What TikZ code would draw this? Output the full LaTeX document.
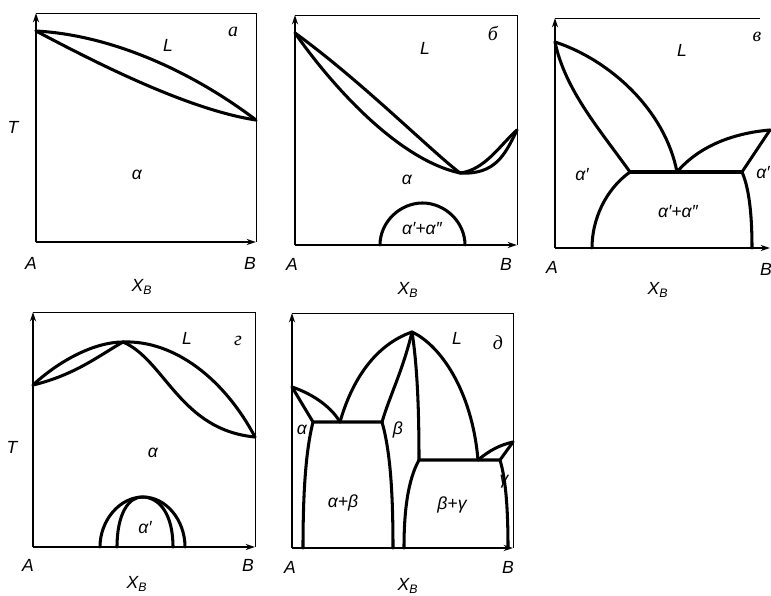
\documentclass[tikz,border=0pt]{standalone}
\usepackage{fontspec}
\setmainfont{Liberation Sans}
\newfontfamily\cyr{Liberation Serif}
\usetikzlibrary{arrows.meta}
\tikzset{
  axis/.style={line width=2pt, -{Stealth[length=2.8mm, width=1.8mm]}},
  frame/.style={line width=0.8pt},
  phase/.style={line width=2.6pt, line cap=round, line join=round},
  lbl/.style={font=\itshape\fontsize{15}{17}\selectfont, inner sep=0pt},
  tag/.style={font=\cyr\itshape\fontsize{17}{19}\selectfont, inner sep=0pt}}

\begin{document}
\begin{tikzpicture}[x=0.03cm, y=-0.03cm]
  \useasboundingbox (0,0) rectangle (771,596);
  % axes and frames
  \foreach \l/\t/\r/\b in {36/13/256/242, 295/15/517/245, 555/18/770/248, 33/312/255/547, 292/313/513/548}
    {\draw[axis] (\l,\b) -- (\l,\t); \draw[axis] (\l,\b) -- (\r,\b);}
  \foreach \l/\t/\r/\b in {36/13/256/242, 295/15/517/245, 33/312/255/547, 292/313/513/548}
    {\draw[frame] (\l,\t) -- (\r,\t) -- (\r,\b);}
  \draw[frame] (555,18) -- (760,18);

  % a: complete solubility
  \coordinate (a-mA) at (36,31);
  \coordinate (a-mB) at (256,120);
  \draw[phase] (a-mA) .. controls (110,35) and (190,70) .. (a-mB);
  \draw[phase] (a-mA) .. controls (100,65) and (190,110) .. (a-mB);
  \node[lbl] (a-L) at (168,45) {L};
  \node[tag] (a-tag) at (233,32) {а};
  \node[lbl] (a-al) at (137,175) {α};
  \node[lbl] (a-T) at (13,127) {T};
  \node[lbl] (a-A) at (31,263) {A};
  \node[lbl] (a-B) at (250,263) {B};
  \node[lbl] (a-X) at (142,287) {X\textsubscript{B}};

  % b: minimum with miscibility gap
  \coordinate (b-mA) at (295,33);
  \coordinate (b-min) at (460,173);
  \coordinate (b-mB) at (517,130);
  \draw[phase] (b-mA) .. controls (360,80) and (430,150) .. (b-min);
  \draw[phase] (b-mA) .. controls (335,90) and (400,160) .. (b-min);
  \draw[phase] (b-min) .. controls (485,170) and (500,145) .. (b-mB);
  \draw[phase] (b-min) .. controls (495,175) and (505,155) .. (b-mB);
  \draw[phase] (380,245) .. controls (380,222) and (400,203) .. (422.5,203)
    .. controls (445,203) and (465,222) .. (465,245);
  \node[lbl] (b-L) at (425,48) {L};
  \node[tag] (b-tag) at (493,33) {б};
  \node[lbl] (b-al) at (407,180) {α};
  \node[lbl] (b-gap) at (422,229) {α′+α″};
  \node[lbl] (b-A) at (292,264) {A};
  \node[lbl] (b-B) at (506,264) {B};
  \node[lbl] (b-X) at (408,290) {X\textsubscript{B}};

  % c: eutectic with gap
  \coordinate (c-mA) at (555,42);
  \coordinate (c-s1) at (630,172);
  \coordinate (c-e) at (677,172);
  \coordinate (c-s2) at (742,172);
  \coordinate (c-mB) at (770,130);
  \draw[phase] (c-mA) .. controls (610,60) and (665,110) .. (c-e);
  \draw[phase] (c-mA) .. controls (565,90) and (600,130) .. (c-s1);
  \draw[phase] (c-s1) -- (c-s2);
  \draw[phase] (c-e) .. controls (700,145) and (735,133) .. (c-mB);
  \draw[phase] (c-s2) -- (c-mB);
  \draw[phase] (c-s1) .. controls (605,190) and (592,220) .. (592,248);
  \draw[phase] (c-s2) .. controls (750,190) and (752,220) .. (752,248);
  \node[lbl] (c-L) at (682,50) {L};
  \node[tag] (c-tag) at (757,37) {в};
  \node[lbl] (c-al1) at (582,175) {α′};
  \node[lbl] (c-al2) at (763,173) {α′};
  \node[lbl] (c-gap) at (678,212) {α′+α″};
  \node[lbl] (c-A) at (552,267) {A};
  \node[lbl] (c-B) at (766,269) {B};
  \node[lbl] (c-X) at (658,290) {X\textsubscript{B}};

  % d: maximum with ordering dome
  \coordinate (d-mA) at (33,385);
  \coordinate (d-max) at (123,342);
  \coordinate (d-mB) at (255,437);
  \draw[phase] (d-mA) .. controls (60,360) and (95,342) .. (d-max);
  \draw[phase] (d-mA) .. controls (75,375) and (100,355) .. (d-max);
  \draw[phase] (d-max) .. controls (175,340) and (225,380) .. (d-mB);
  \draw[phase] (d-max) .. controls (165,360) and (180,430) .. (d-mB);
  \draw[phase] (100,547) .. controls (100,520) and (120,497) .. (143,497)
    .. controls (166,497) and (185,520) .. (185,547);
  \draw[phase] (117,547) .. controls (117,515) and (128,497) .. (142,497)
    .. controls (160,497) and (173,515) .. (173,547);
  \node[lbl] (d-L) at (187,338) {L};
  \node[tag] (d-tag) at (238,341) {г};
  \node[lbl] (d-al) at (153,453) {α};
  \node[lbl] (d-al2) at (145,528) {α′};
  \node[lbl] (d-T) at (12,447) {T};
  \node[lbl] (d-A) at (28,565) {A};
  \node[lbl] (d-B) at (248,565) {B};
  \node[lbl] (d-X) at (137,584) {X\textsubscript{B}};

  % e: compound with two eutectics
  \coordinate (e-mA) at (292,387);
  \coordinate (e-sa) at (313,422);
  \coordinate (e-e1) at (340,422);
  \coordinate (e-sb) at (382,422);
  \coordinate (e-pk) at (412,332);
  \coordinate (e-r1) at (419,460);
  \coordinate (e-e2) at (478,460);
  \coordinate (e-r2) at (500,460);
  \coordinate (e-mB) at (513,442);
  \draw[phase] (e-mA) .. controls (310,393) and (330,405) .. (e-e1);
  \draw[phase] (e-mA) -- (e-sa) -- (e-sb);
  \draw[phase] (e-e1) .. controls (352,380) and (375,345) .. (e-pk);
  \draw[phase] (e-sb) .. controls (390,395) and (403,370) .. (e-pk);
  \draw[phase] (e-pk) .. controls (418,370) and (419,420) .. (e-r1) -- (e-r2) -- (e-mB);
  \draw[phase] (e-pk) .. controls (440,345) and (472,390) .. (e-e2);
  \draw[phase] (e-e2) .. controls (490,450) and (500,445) .. (e-mB);
  \draw[phase] (e-sa) .. controls (306,450) and (303,490) .. (303,548);
  \draw[phase] (e-sb) .. controls (390,450) and (393,490) .. (393,548);
  \draw[phase] (e-r1) .. controls (408,480) and (404,510) .. (404,548);
  \draw[phase] (e-r2) .. controls (506,480) and (508,510) .. (508,548);
  \node[lbl] (e-L) at (457,338) {L};
  \node[tag] (e-tag) at (498,343) {д};
  \node[lbl] (e-al) at (302,430) {α};
  \node[lbl] (e-be) at (398,430) {β};
  \node[lbl] (e-ab) at (343,503) {α+β};
  \node[lbl] (e-bg) at (452,505) {β+γ};
  \node[lbl] (e-ga) at (504,482) {γ};
  \node[lbl] (e-A) at (290,567) {A};
  \node[lbl] (e-B) at (508,567) {B};
  \node[lbl] (e-X) at (408,586) {X\textsubscript{B}};
\end{tikzpicture}
\end{document}
